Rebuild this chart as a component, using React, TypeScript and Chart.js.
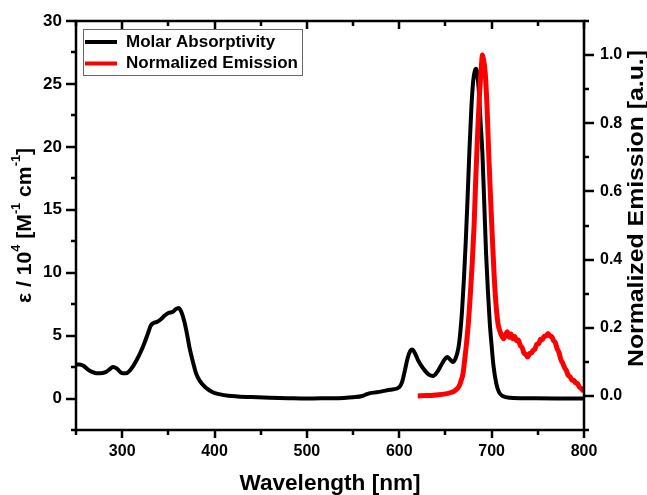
import React, { useEffect, useRef } from 'react';
import { Chart, registerables } from 'chart.js';

Chart.register(...registerables);

// ---------- data ----------
const absWavelength = [
  250, 254, 258, 263, 268, 272, 276, 282, 286, 290, 294, 298, 301, 304, 308, 312, 316, 320, 324, 328,
  331, 334, 338, 342, 346, 350, 355, 358, 361, 364, 367, 370, 373, 377, 380, 384, 390, 398, 405, 415,
  425, 440, 460, 480, 500, 520, 540, 550, 560, 565, 570, 580, 590, 600, 603, 606, 609, 612, 614, 617,
  620, 624, 628, 632, 637, 641, 645, 649, 652, 655, 658, 661, 664, 666, 668, 670, 672, 674, 676, 678,
  680, 682, 683, 684, 686, 688, 690, 692, 694, 696, 698, 700, 702, 705, 708, 712, 720, 740, 770, 800,
];
const absEpsilon = [
  2.7, 2.7, 2.6, 2.3, 2.1, 2.0, 2.0, 2.1, 2.3, 2.5, 2.4, 2.1, 2.0, 2.0, 2.2, 2.6, 3.1, 3.7, 4.4, 5.2,
  5.8, 6.0, 6.1, 6.3, 6.6, 6.8, 6.9, 7.1, 7.2, 6.9, 6.2, 5.2, 4.0, 2.8, 2.0, 1.4, 0.9, 0.5, 0.35, 0.22,
  0.17, 0.12, 0.07, 0.03, 0.0, 0.02, 0.05, 0.1, 0.2, 0.35, 0.45, 0.55, 0.7, 0.9, 1.3, 2.2, 3.2, 3.8, 3.9, 3.6,
  3.1, 2.6, 2.2, 1.9, 1.8, 2.1, 2.6, 3.1, 3.3, 3.1, 2.9, 3.2, 4.0, 5.2, 7.0, 9.5, 12.5, 16.0, 19.8, 23.0,
  25.2, 26.1, 26.2, 26.0, 24.6, 22.0, 19.5, 15.5, 11.5, 8.5, 6.0, 4.2, 2.6, 1.2, 0.5, 0.2, 0.06, 0.02, 0.0, 0.0,
];

const emWavelength = [
  620, 630, 640, 650, 656, 660, 663, 665, 667, 669, 671, 673, 675, 677, 679, 681, 683, 685, 687, 689,
  690, 691, 693, 695, 697, 699, 701, 703, 705, 707, 709, 711, 713, 715, 717, 719, 721, 723, 725, 727,
  729, 731, 733, 735, 737, 739, 741, 743, 745, 747, 749, 751, 753, 755, 757, 759, 761, 763, 765, 767,
  769, 771, 773, 775, 777, 779, 781, 783, 785, 787, 789, 791, 793, 795, 797, 799, 800,
];
const emIntensity = [
  0.0, 0.001, 0.003, 0.006, 0.01, 0.015, 0.022, 0.03, 0.045, 0.065, 0.11, 0.16, 0.22, 0.3, 0.39, 0.5, 0.65, 0.78, 0.89, 0.97,
  1.0, 0.99, 0.95, 0.85, 0.7, 0.57, 0.45, 0.34, 0.26, 0.21, 0.19, 0.176, 0.168, 0.18, 0.188, 0.172, 0.182, 0.168, 0.174, 0.162,
  0.164, 0.148, 0.142, 0.126, 0.122, 0.114, 0.124, 0.126, 0.134, 0.138, 0.152, 0.153, 0.166, 0.165, 0.175, 0.176, 0.183, 0.176, 0.174, 0.163,
  0.156, 0.138, 0.127, 0.106, 0.096, 0.083, 0.074, 0.06, 0.056, 0.046, 0.046, 0.038, 0.036, 0.026, 0.022, 0.016, 0.017,
];

const xTickLabels = [300, 400, 500, 600, 700, 800];
const leftTickLabels = [0, 5, 10, 15, 20, 25, 30];
const rightTickLabels = [0.0, 0.2, 0.4, 0.6, 0.8, 1.0];

const seriesLabels = ['Molar Absorptivity', 'Normalized Emission'];
const xTitle = 'Wavelength [nm]';
const rightTitle = 'Normalized Emission [a.u.]';
const leftTitleParts: [string, boolean][] = [
  ['ε / 10', false], ['4', true], [' [M', false], ['-1', true], [' cm', false], ['-1', true], [']', false],
];

const FONT = '"Liberation Sans", Arial, sans-serif';

const decorPlugin = {
  id: 'decor',
  afterDraw(chart: any) {
    const { ctx, chartArea: ca, scales } = chart;
    const x = scales.x, y = scales.y, y2 = scales.y2;
    ctx.save();
    ctx.strokeStyle = '#000';
    ctx.lineWidth = 2.5;
    ctx.lineCap = 'butt';
    // frame
    ctx.strokeRect(ca.left, ca.top, ca.right - ca.left, ca.bottom - ca.top);
    // x ticks (bottom outward, top inward)
    const xt: number[] = [xTickLabels[0] - 50];
    xTickLabels.forEach((v, i) => { if (i > 0) xt.push(v - 50); xt.push(v); });
    ctx.beginPath();
    xt.forEach((v) => {
      const major = xTickLabels.includes(v);
      const px = Math.round(x.getPixelForValue(v));
      const len = major ? 8 : 5;
      ctx.moveTo(px, ca.bottom);
      ctx.lineTo(px, ca.bottom + len);
      ctx.moveTo(px, ca.top);
      ctx.lineTo(px, ca.top + len);
    });
    // left ticks
    const lt: number[] = [leftTickLabels[0] - 2.5];
    leftTickLabels.forEach((v, i) => { if (i > 0) lt.push(v - 2.5); lt.push(v); });
    lt.forEach((v) => {
      const major = leftTickLabels.includes(v);
      const py = Math.round(y.getPixelForValue(v));
      ctx.moveTo(ca.left, py);
      ctx.lineTo(ca.left - (major ? 10 : 5), py);
    });
    // right ticks
    const rt: number[] = [rightTickLabels[0] - 0.1];
    rightTickLabels.forEach((v, i) => { if (i > 0) rt.push(v - 0.1); rt.push(v); });
    rt.push(rightTickLabels[rightTickLabels.length - 1] + 0.1);
    rt.forEach((v, i) => {
      const major = i % 2 === 1;
      const py = Math.round(y2.getPixelForValue(v));
      ctx.moveTo(ca.right, py);
      ctx.lineTo(ca.right + (major ? 10 : 5), py);
    });
    ctx.stroke();

    // left title with superscripts
    ctx.fillStyle = '#000';
    ctx.save();
    ctx.translate(25, 225.5);
    ctx.rotate(-Math.PI / 2);
    const mainFont = `bold 20px ${FONT}`;
    const supFont = `bold 12px ${FONT}`;
    let total = 0;
    leftTitleParts.forEach(([t, sup]) => { ctx.font = sup ? supFont : mainFont; total += ctx.measureText(t).width; });
    ctx.scale(155 / total, 1);
    let cx = -total / 2;
    ctx.textBaseline = 'middle';
    ctx.textAlign = 'left';
    leftTitleParts.forEach(([t, sup]) => {
      ctx.font = sup ? supFont : mainFont;
      ctx.fillText(t, cx, sup ? -8 : 0);
      cx += ctx.measureText(t).width;
    });
    ctx.restore();

    // right title
    ctx.save();
    ctx.translate(637, 208.5);
    ctx.rotate(-Math.PI / 2);
    ctx.font = `bold 22px ${FONT}`;
    const rw = ctx.measureText(rightTitle).width;
    ctx.scale(317 / rw, 1);
    ctx.textAlign = 'center';
    ctx.textBaseline = 'middle';
    ctx.fillText(rightTitle, 0, 0);
    ctx.restore();

    // legend
    ctx.lineWidth = 1;
    ctx.strokeStyle = '#666';
    ctx.strokeRect(83.5, 29.5, 219, 46);
    const rows = [42, 63.5];
    chart.data.datasets.forEach((ds: any, i: number) => {
      ctx.beginPath();
      ctx.strokeStyle = ds.borderColor;
      ctx.lineWidth = 4;
      ctx.moveTo(85, rows[i]);
      ctx.lineTo(117, rows[i]);
      ctx.stroke();
      ctx.font = `bold 17px ${FONT}`;
      ctx.fillStyle = '#000';
      ctx.textAlign = 'left';
      ctx.textBaseline = 'middle';
      ctx.fillText(ds.label, 126, rows[i]);
    });
    ctx.restore();
  },
};

export default function App() {
  const ref = useRef<HTMLCanvasElement | null>(null);
  useEffect(() => {
    if (!ref.current) return;
    const tickFont = { family: FONT, weight: 'bold' as const, size: 16 };
    const chart = new Chart(ref.current, {
      type: 'line',
      data: {
        datasets: [
          {
            label: seriesLabels[0],
            data: absWavelength.map((w, i) => ({ x: w, y: absEpsilon[i] })),
            borderColor: '#000000',
            borderWidth: 4,
            pointRadius: 0,
            cubicInterpolationMode: 'monotone',
            yAxisID: 'y',
            order: 1,
          },
          {
            label: seriesLabels[1],
            data: emWavelength.map((w, i) => ({ x: w, y: emIntensity[i] })),
            borderColor: '#ff0000',
            borderWidth: 5,
            pointRadius: 0,
            cubicInterpolationMode: 'monotone',
            yAxisID: 'y2',
            order: 0,
          },
        ],
      },
      options: {
        responsive: false,
        animation: false,
        layout: { padding: { top: 21, left: 0, right: 0, bottom: 0 } },
        plugins: { legend: { display: false }, tooltip: { enabled: false } },
        scales: {
          x: {
            type: 'linear',
            position: 'bottom',
            min: 250,
            max: 800,
            afterFit: (s: any) => { s.height = 65; },
            afterBuildTicks: (s: any) => { s.ticks = xTickLabels.map((v) => ({ value: v })); },
            grid: { drawOnChartArea: false, drawTicks: true, tickLength: 8, tickColor: 'rgba(0,0,0,0)' },
            border: { display: false },
            ticks: { font: tickFont, color: '#000', padding: 4, maxRotation: 0, autoSkip: false, callback: (v: any) => String(v) },
            title: { display: true, text: xTitle, color: '#000', font: { family: FONT, weight: 'bold', size: 22.6, lineHeight: 1 }, padding: 0 },
          },
          y: {
            type: 'linear',
            position: 'left',
            min: -2.5,
            max: 30,
            afterFit: (s: any) => { s.width = 76; },
            afterBuildTicks: (s: any) => { s.ticks = leftTickLabels.map((v) => ({ value: v })); },
            grid: { drawOnChartArea: false, drawTicks: true, tickLength: 10, tickColor: 'rgba(0,0,0,0)' },
            border: { display: false },
            ticks: { font: { ...tickFont, size: 17 }, color: '#000', padding: 4, autoSkip: false, callback: (v: any) => String(v) },
          },
          y2: {
            type: 'linear',
            position: 'right',
            min: -0.1,
            max: 1.1,
            afterFit: (s: any) => { s.width = 63; },
            afterBuildTicks: (s: any) => { s.ticks = rightTickLabels.map((v) => ({ value: v })); },
            grid: { drawOnChartArea: false, drawTicks: true, tickLength: 10, tickColor: 'rgba(0,0,0,0)' },
            border: { display: false },
            ticks: { font: tickFont, color: '#000', padding: 6, autoSkip: false, callback: (v: any) => Number(v).toFixed(1) },
          },
        },
      },
      plugins: [decorPlugin],
    } as any);
    return () => chart.destroy();
  }, []);
  return (
    <div style={{ position: 'fixed', left: 0, top: 0, width: 647, height: 495, background: '#fff' }}>
      <canvas ref={ref} width={647} height={495} style={{ display: 'block' }} />
    </div>
  );
}
